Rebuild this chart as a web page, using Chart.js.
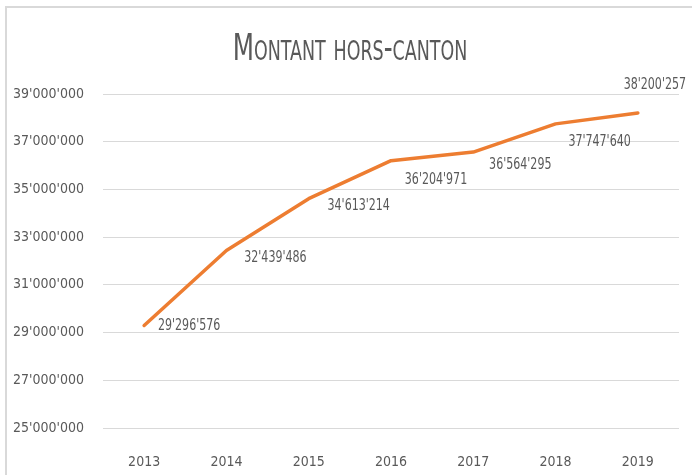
<!DOCTYPE html>
<html>
<head>
<meta charset="utf-8">
<script src="https://cdn.jsdelivr.net/npm/chart.js@4/dist/chart.umd.min.js"></script>
<style>
  html, body { margin: 0; padding: 0; background: #fff; }
  #wrap { position: relative; width: 692px; height: 475px; }
</style>
</head>
<body>
<div id="wrap"><canvas id="c" width="692" height="475"></canvas></div>
<script>
// ---- data ----
const years = ['2013', '2014', '2015', '2016', '2017', '2018', '2019'];
const montant = [29296576, 32439486, 34613214, 36204971, 36564295, 37747640, 38200257];
const yTicks = { min: 25000000, max: 39000000, step: 2000000 };
const titleText = 'Montant hors-canton';
// label placement relative to each point (dx, dy in px)
const labelOffsets = [[45, 1], [49, 8], [50, 7], [45, 19], [47, 13], [44, 18], [17, -28]];

const FONT = "'DejaVu Sans Condensed', 'Liberation Sans Narrow', 'DejaVu Sans', sans-serif";
const TXT = '#595959';

function fmt(v) {
  return String(Math.round(v)).replace(/\B(?=(\d{3})+(?!\d))/g, "'");
}

const framePlugin = {
  id: 'frame',
  beforeDraw(chart) {
    const ctx = chart.ctx;
    ctx.save();
    ctx.fillStyle = '#fff';
    ctx.fillRect(0, 0, chart.width, chart.height);
    ctx.strokeStyle = '#d9d9d9';
    ctx.lineWidth = 2;
    ctx.beginPath();
    ctx.moveTo(6, chart.height);
    ctx.lineTo(6, 7);
    ctx.lineTo(chart.width, 7);
    ctx.stroke();
    ctx.restore();
  }
};

// condensed small-caps title, centred over the chart
const titlePlugin = {
  id: 'condTitle',
  afterDraw(chart) {
    const ctx = chart.ctx;
    ctx.save();
    ctx.font = 'small-caps 38px ' + FONT;
    ctx.fillStyle = TXT;
    ctx.textAlign = 'center';
    ctx.textBaseline = 'alphabetic';
    ctx.translate(350, 60);
    ctx.scale(0.72, 1);
    ctx.fillText(titleText, 0, 0);
    ctx.restore();
  }
};

const labelPlugin = {
  id: 'pointLabels',
  afterDatasetsDraw(chart) {
    const ctx = chart.ctx;
    const meta = chart.getDatasetMeta(0);
    ctx.save();
    ctx.font = '15px ' + FONT;
    ctx.fillStyle = TXT;
    ctx.textAlign = 'center';
    ctx.textBaseline = 'middle';
    meta.data.forEach((pt, i) => {
      const o = labelOffsets[i];
      ctx.save();
      ctx.translate(pt.x + o[0], pt.y + o[1]);
      ctx.scale(0.82, 1);
      ctx.fillText(fmt(montant[i]), 0, 0);
      ctx.restore();
    });
    ctx.restore();
  }
};

new Chart(document.getElementById('c'), {
  type: 'line',
  data: {
    labels: years,
    datasets: [{
      data: montant,
      borderColor: '#ED7D31',
      borderWidth: 3.5,
      pointRadius: 0,
      tension: 0,
      fill: false,
      borderCapStyle: 'round',
      borderJoinStyle: 'round'
    }]
  },
  options: {
    responsive: false,
    animation: false,
    devicePixelRatio: 1,
    layout: { padding: { top: 94, left: 6, right: 13, bottom: 0 } },
    plugins: {
      legend: { display: false },
      tooltip: { enabled: false },
      title: { display: false }
    },
    scales: {
      x: {
        offset: true,
        grid: { display: false },
        border: { display: false },
        ticks: { color: TXT, font: { family: FONT, size: 14 }, padding: 18 },
        afterFit(s) { s.height = 47; }
      },
      y: {
        min: yTicks.min,
        max: yTicks.max,
        grid: { color: '#d9d9d9', lineWidth: 1, drawTicks: false },
        border: { display: false },
        ticks: {
          stepSize: yTicks.step,
          color: TXT,
          font: { family: FONT, size: 14 },
          padding: 19,
          callback: (v) => fmt(v)
        },
        afterFit(s) { s.width = 97; }
      }
    }
  },
  plugins: [framePlugin, labelPlugin, titlePlugin]
});
</script>
</body>
</html>
